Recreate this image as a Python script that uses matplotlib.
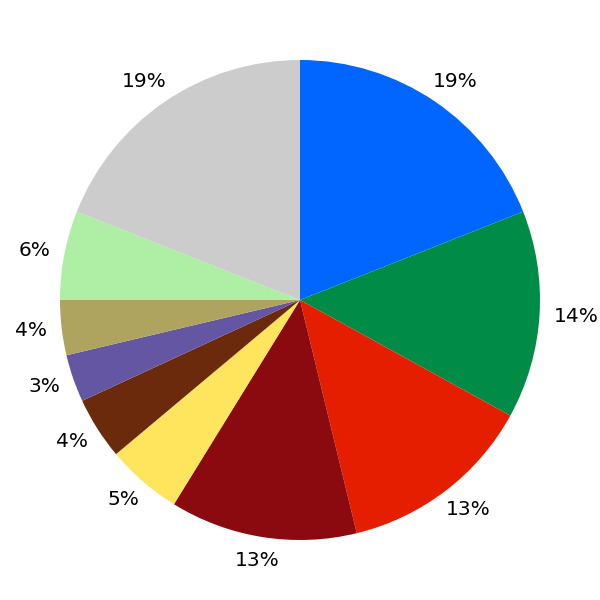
import numpy as np
import matplotlib
matplotlib.use("Agg")
import matplotlib.pyplot as plt

# fatias do grafico, no sentido horario a partir do topo
valores = [19.0, 14.0, 13.2, 12.6, 5.1, 4.2, 3.2, 3.7, 6.0, 19.0]
cores = ["#0066ff", "#008c46", "#e61e00", "#8b0a10", "#ffe45e",
         "#6b2a0b", "#6456a3", "#aea35f", "#afeea5", "#cccccc"]

fig = plt.figure(figsize=(6, 6), dpi=100)
ax = fig.add_axes([0, 0, 1, 1])
ax.set_xlim(-1.25, 1.25)
ax.set_ylim(-1.25, 1.25)
ax.set_aspect("equal")
ax.axis("off")

fatias, _ = ax.pie(valores, colors=cores, startangle=90, counterclock=False,
                   radius=1, wedgeprops=dict(linewidth=0))

total = sum(valores)
textos = []
for w, v in zip(fatias, valores):
    ang = np.deg2rad((w.theta1 + w.theta2) / 2)
    t = ax.text(np.cos(ang), np.sin(ang), f"{v / total * 100:.0f}%",
                ha="center", va="center", fontsize=14.5, color="black")
    textos.append((t, ang))

# afastar cada rotulo da borda de acordo com o tamanho do texto
fig.canvas.draw()
r = fig.canvas.get_renderer()
inv = ax.transData.inverted()
for t, ang in textos:
    bb = t.get_window_extent(r)
    (x0, y0), (x1, y1) = inv.transform([[bb.x0, bb.y0], [bb.x1, bb.y1]])
    hw, hh = (x1 - x0) / 2, (y1 - y0) / 2
    ax0 = 1.06 * np.cos(ang)
    ay0 = 1.06 * np.sin(ang)
    t.set_position((ax0 + hw * np.cos(ang), ay0 + hh * np.sin(ang)))

fig.savefig("out.png", dpi=100)
